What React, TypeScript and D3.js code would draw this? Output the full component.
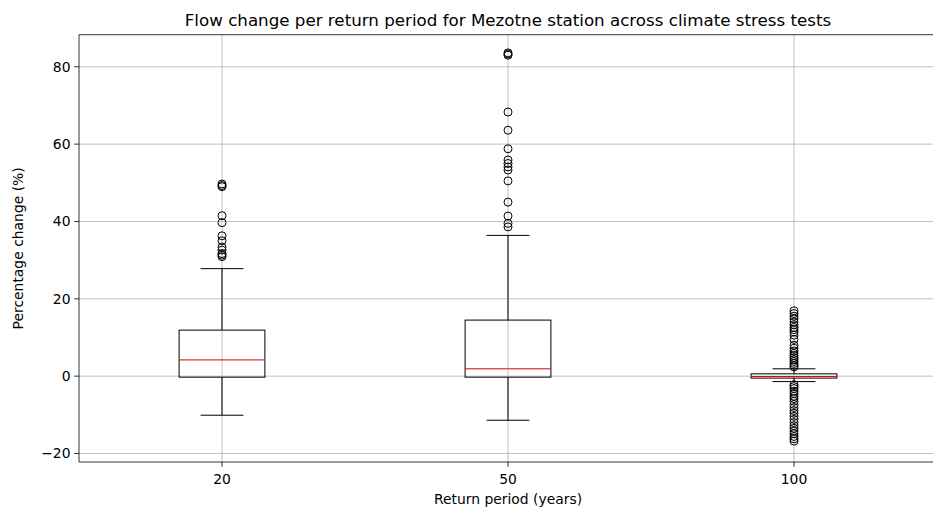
import React from "react";
import * as d3 from "d3";

const categories = ["20", "50", "100"];
const q1 = [-0.26, -0.26, -0.5];
const medians = [4.2, 1.9, -0.1];
const q3 = [11.9, 14.5, 0.6];
const whiskerLow = [-10.1, -11.4, -1.4];
const whiskerHigh = [27.8, 36.4, 1.9];
const outliers20 = [49.7, 49.3, 49.0, 41.5, 39.7, 36.3, 35.0, 33.4, 32.6, 31.7, 31.3, 30.9];
const outliers50 = [83.6, 83.3, 83.0, 68.3, 63.6, 58.8, 55.9, 55.0, 54.1, 53.3, 50.5, 45.0, 41.4, 39.5, 38.6];
const outliers100 = [
  16.9, 16.2, 15.5, 14.8, 14.0, 13.3, 12.6, 12.0, 11.4, 10.6, 9.5, 8.0, 7.2, 6.5, 5.9, 5.3, 4.8, 4.3, 3.8, 3.3, 2.8, 2.4,
  -2.2, -2.7, -3.2, -3.9, -4.5, -5.2, -5.8, -6.5, -7.3, -8.1, -8.9, -9.6, -10.4, -11.2, -12.0, -12.8, -13.5, -14.2, -14.9,
  -15.6, -16.2, -16.8,
];
const outliers = [outliers20, outliers50, outliers100];
const yTicks = [-20, 0, 20, 40, 60, 80];

const W = 933;
const H = 512;
const left = 79;
const right = 937;
const top = 34.7;
const bottom = 462;

export default function App() {
  const x = d3.scaleLinear().domain([0.5, 3.5]).range([left, right]);
  const y = d3.scaleLinear().domain([-22.2, 88.3]).range([bottom, top]);
  const boxW = x(1.3) - x(1);
  const capW = boxW / 2;
  const font = "DejaVu Sans, sans-serif";
  const fmt = (v: number) => (v < 0 ? "\u2212" + Math.abs(v) : String(v));
  return (
    <svg
      width={W}
      height={H}
      style={{ position: "absolute", left: 0, top: 0, background: "#fff" }}
      fontFamily={font}
    >
      <rect x={0} y={0} width={W} height={H} fill="#fff" />
      {/* grid */}
      {yTicks.map((t) => (
        <line key={"gy" + t} x1={left} x2={right} y1={y(t)} y2={y(t)} stroke="#b0b0b0" strokeWidth={0.8} />
      ))}
      {categories.map((c, i) => (
        <line key={"gx" + c} x1={x(i + 1)} x2={x(i + 1)} y1={top} y2={bottom} stroke="#b0b0b0" strokeWidth={0.8} />
      ))}
      {/* boxes */}
      {categories.map((c, i) => {
        const cx = x(i + 1);
        return (
          <g key={"b" + c} fill="none">
            <line x1={cx} x2={cx} y1={y(q1[i])} y2={y(whiskerLow[i])} stroke="#000" strokeWidth={1} />
            <line x1={cx} x2={cx} y1={y(q3[i])} y2={y(whiskerHigh[i])} stroke="#000" strokeWidth={1} />
            <line x1={cx - capW / 2} x2={cx + capW / 2} y1={y(whiskerLow[i])} y2={y(whiskerLow[i])} stroke="#000" strokeWidth={1} />
            <line x1={cx - capW / 2} x2={cx + capW / 2} y1={y(whiskerHigh[i])} y2={y(whiskerHigh[i])} stroke="#000" strokeWidth={1} />
            <rect
              x={cx - boxW / 2}
              y={y(q3[i])}
              width={boxW}
              height={y(q1[i]) - y(q3[i])}
              stroke="#000"
              strokeWidth={1}
              fill="none"
            />
            <line x1={cx - boxW / 2} x2={cx + boxW / 2} y1={y(medians[i])} y2={y(medians[i])} stroke="#e00000" strokeWidth={1} />
            {outliers[i].map((v, k) => (
              <circle key={k} cx={cx} cy={y(v)} r={4} fill="none" stroke="#000" strokeWidth={1} />
            ))}
          </g>
        );
      })}
      {/* spines */}
      <line x1={left} x2={left} y1={top} y2={bottom} stroke="#000" strokeWidth={0.8} />
      <line x1={left} x2={right} y1={top} y2={top} stroke="#000" strokeWidth={0.8} />
      <line x1={left} x2={right} y1={bottom} y2={bottom} stroke="#000" strokeWidth={0.8} />
      <line x1={right} x2={right} y1={top} y2={bottom} stroke="#000" strokeWidth={0.8} />
      {/* y ticks */}
      {yTicks.map((t) => (
        <g key={"yt" + t}>
          <line x1={left - 4.9} x2={left} y1={y(t)} y2={y(t)} stroke="#000" strokeWidth={0.8} />
          <text x={left - 8.5} y={y(t)} dy="0.35em" textAnchor="end" fontSize={13.9} fill="#000">
            {fmt(t)}
          </text>
        </g>
      ))}
      {/* x ticks */}
      {categories.map((c, i) => (
        <g key={"xt" + c}>
          <line x1={x(i + 1)} x2={x(i + 1)} y1={bottom} y2={bottom + 4.9} stroke="#000" strokeWidth={0.8} />
          <text x={x(i + 1)} y={bottom + 21.5} textAnchor="middle" fontSize={13.9} fill="#000">
            {c}
          </text>
        </g>
      ))}
      <text x={(left + right) / 2} y={504} textAnchor="middle" fontSize={13.9} fill="#000">
        Return period (years)
      </text>
      <text
        transform={`translate(23,${(top + bottom) / 2}) rotate(-90)`}
        textAnchor="middle"
        fontSize={13.9}
        fill="#000"
      >
        Percentage change (%)
      </text>
      <text x={(left + right) / 2} y={26} textAnchor="middle" fontSize={16.7} fill="#000">
        Flow change per return period for Mezotne station across climate stress tests
      </text>
    </svg>
  );
}
